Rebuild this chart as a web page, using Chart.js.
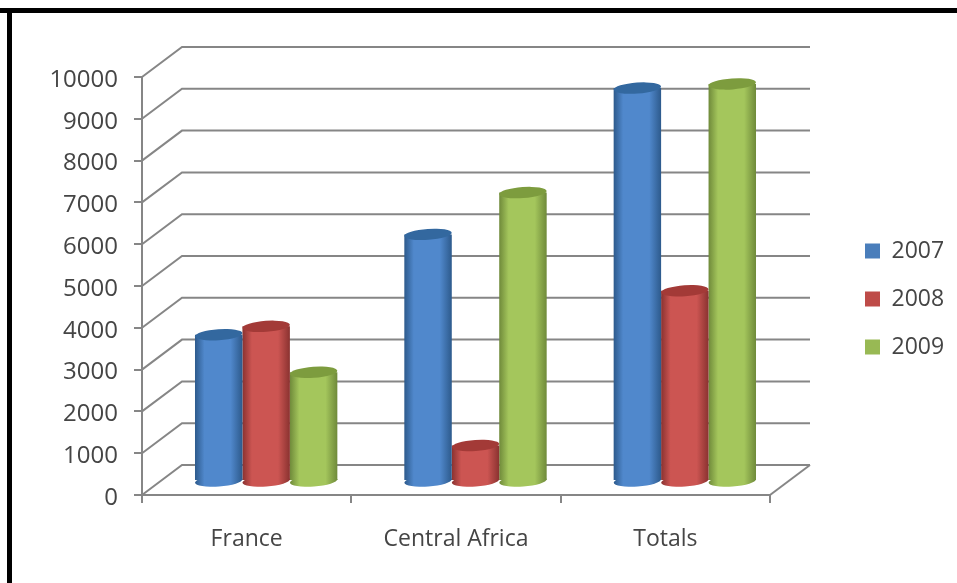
<!DOCTYPE html>
<html>
<head>
<meta charset="utf-8">
<style>html,body{margin:0;padding:0;background:#fff;overflow:hidden}#w{position:relative;width:957px;height:583px}canvas{filter:blur(0.5px)}</style>
<script src="https://cdn.jsdelivr.net/npm/chart.js@4/dist/chart.umd.min.js"></script>
</head>
<body>
<div id="w"><canvas id="c" width="957" height="583"></canvas></div>
<script>
const categories = ["France", "Central Africa", "Totals"];
const series2007 = [3500, 5900, 9400];
const series2008 = [3700, 850, 4550];
const series2009 = [2600, 6900, 9500];
const seriesNames = ["2007", "2008", "2009"];
const swatchColors = ["#4a7ebb", "#be4b48", "#98b954"];
const edgeColors = ["#2d5a8c", "#8a3230", "#6f8a3a"];
const midColors = ["#5088cc", "#cc5552", "#a4c65c"];
const topColors = ["#33689f", "#a33a37", "#7d9c3e"];

const GRID = "#868686", TEXT = "#454545", FONT = "'Open Sans'";
const WALL_DX = 40, WALL_DY = -30;   // depth of the 3D box
const BAR_DX = 19.5, BAR_DY = -14;   // bars stand mid-depth
const CAT_PCT = 0.68, RY = 5.5, TILT = -0.07;
const LEGEND_X = 865, LEGEND_CENTER_Y = 299, LEGEND_PAD = 25;

function barGeom(chart, di, i) {
  const xs = chart.scales.x;
  const cw = xs.width / categories.length;
  const w = cw * CAT_PCT / 3;
  const cx = xs.getPixelForValue(i) + (di - 1) * w + BAR_DX;
  return {cx, w};
}
function shade(c, cx, w, di, shift) {
  const g = c.createLinearGradient(cx - w / 2 - shift, 0, cx + w / 2 - shift, 0);
  g.addColorStop(0, edgeColors[di]);
  g.addColorStop(0.2, midColors[di]);
  g.addColorStop(0.75, midColors[di]);
  g.addColorStop(1, edgeColors[di]);
  return g;
}
function cylFill(context) {
  const chart = context.chart;
  if (!chart.scales.x || context.dataIndex === undefined) return swatchColors[context.datasetIndex];
  const {cx, w} = barGeom(chart, context.datasetIndex, context.dataIndex);
  return shade(chart.ctx, cx, w, context.datasetIndex, BAR_DX);
}

const box3d = {
  id: "box3d",
  beforeLayout(chart) {
    const lg = chart.legend;
    if (lg && !lg._wrapped) {
      const fit = lg.fit;
      lg.fit = function () { fit.call(this); this.width = 187; };
      lg._wrapped = true;
    }
  },
  afterLayout(chart) {
    const lg = chart.legend;
    if (lg) {
      const mid = (lg.top + lg.bottom) / 2;
      lg.top += LEGEND_CENTER_Y - mid;
      lg.bottom += LEGEND_CENTER_Y - mid;
      lg.left = LEGEND_X - LEGEND_PAD;
    }
  },
  beforeDraw(chart) {
    const c = chart.ctx;
    c.save();
    c.fillStyle = "#000";
    c.fillRect(0, 8, 957, 5);
    c.fillRect(7, 8, 5, 575);
    c.restore();
  },
  beforeDatasetsDraw(chart) {
    const c = chart.ctx, {x: xs, y: ys} = chart.scales;
    const L = xs.left, R = xs.right;
    c.save();
    c.strokeStyle = GRID; c.lineWidth = 2;
    ys.ticks.forEach(t => {
      const y = ys.getPixelForValue(t.value);
      c.beginPath();
      c.moveTo(L, y);
      c.lineTo(L + WALL_DX, y + WALL_DY);
      c.lineTo(R + WALL_DX, y + WALL_DY);
      c.stroke();
    });
    const y0 = ys.getPixelForValue(0);
    c.beginPath();
    c.moveTo(R + WALL_DX, y0 + WALL_DY);
    c.lineTo(R, y0);
    c.stroke();
    c.restore();
    // bottoms of cylinders, then shift the library's bars to mid-depth
    c.save();
    chart.data.datasets.forEach((ds, di) => {
      ds.data.forEach((v, i) => {
        const {cx, w} = barGeom(chart, di, i);
        c.fillStyle = shade(c, cx, w, di, 0);
        c.beginPath();
        c.ellipse(cx, y0 + BAR_DY, w / 2, RY, TILT, 0, Math.PI * 2);
        c.fill();
      });
    });
    c.restore();
    c.save();
    c.translate(BAR_DX, BAR_DY);
  },
  afterDatasetsDraw(chart) {
    const c = chart.ctx, ys = chart.scales.y;
    c.restore();
    c.save();
    chart.data.datasets.forEach((ds, di) => {
      ds.data.forEach((v, i) => {
        const {cx, w} = barGeom(chart, di, i);
        const y = ys.getPixelForValue(v) + BAR_DY;
        c.fillStyle = topColors[di];
        c.beginPath();
        c.ellipse(cx, y, w / 2, RY, TILT, 0, Math.PI * 2);
        c.fill();
      });
    });
    c.restore();
  }
};

function makeDataset(name, data) {
  return {
    label: name, data,
    backgroundColor: cylFill,
    borderWidth: 0,
    barPercentage: 1,
    categoryPercentage: CAT_PCT
  };
}

new Chart(document.getElementById("c"), {
  type: "bar",
  data: {
    labels: categories,
    datasets: [
      makeDataset(seriesNames[0], series2007),
      makeDataset(seriesNames[1], series2008),
      makeDataset(seriesNames[2], series2009)
    ]
  },
  options: {
    responsive: false,
    animation: false,
    devicePixelRatio: 1,
    layout: {padding: {left: 0, top: 77, right: 0, bottom: 0}},
    scales: {
      x: {
        afterFit(s) { s.height = 88; },
        border: {color: GRID, width: 2},
        grid: {color: GRID, lineWidth: 2, drawOnChartArea: false, tickLength: 8, offset: true},
        ticks: {color: TEXT, font: {family: FONT, size: 23}, padding: 23, maxRotation: 0}
      },
      y: {
        min: 0, max: 10000,
        afterFit(s) { s.width = 142; },
        border: {color: GRID, width: 2},
        grid: {color: GRID, lineWidth: 2, drawOnChartArea: false, tickLength: 8},
        ticks: {
          color: TEXT, font: {family: FONT, size: 24}, stepSize: 1000, padding: 16, labelOffset: 3,
          callback: v => String(v)
        }
      }
    },
    plugins: {
      tooltip: {enabled: false},
      legend: {
        position: "right",
        labels: {
          color: TEXT,
          font: {family: FONT, size: 23},
          boxWidth: 15, boxHeight: 15,
          padding: LEGEND_PAD,
          generateLabels() {
            return seriesNames.map((n, i) => ({
              text: n, fillStyle: swatchColors[i], strokeStyle: swatchColors[i],
              lineWidth: 0, datasetIndex: i, fontColor: TEXT
            }));
          }
        }
      }
    }
  },
  plugins: [box3d]
});
</script>
</body>
</html>
